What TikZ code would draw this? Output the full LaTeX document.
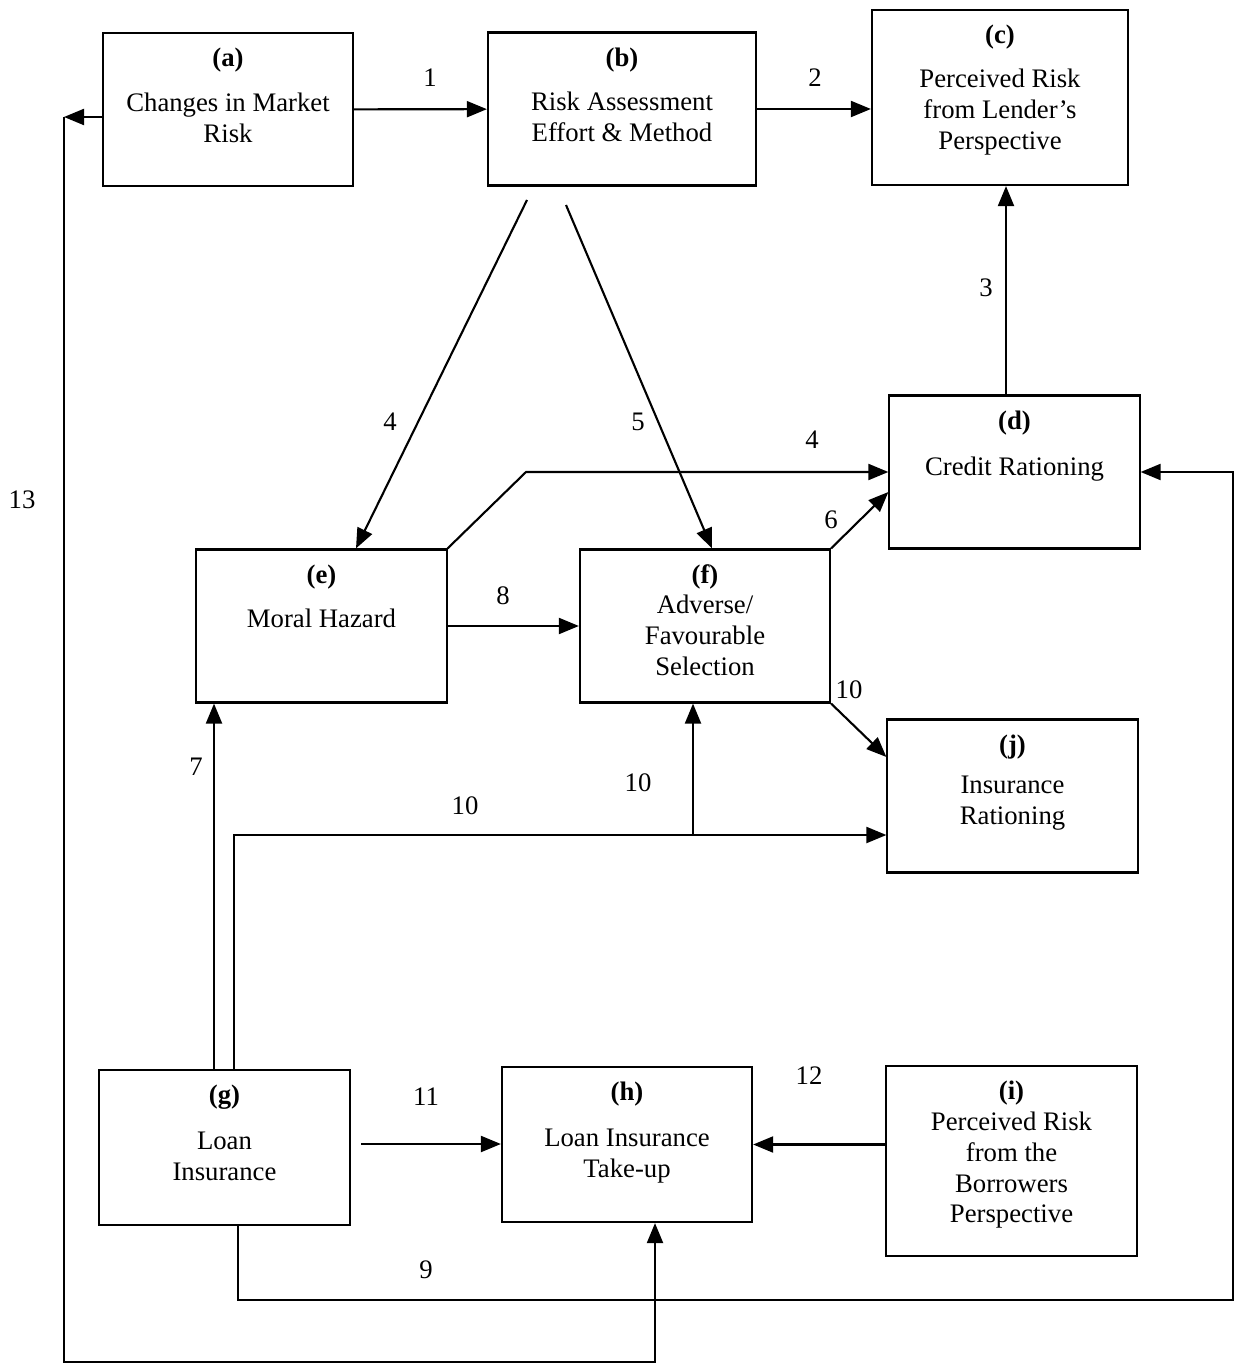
\documentclass[tikz,border=0pt]{standalone}
\usepackage{fontspec}
\setmainfont{Liberation Serif}
\usetikzlibrary{arrows.meta}
\newcommand{\dgfont}{\fontsize{7.6pt}{8.8pt}\selectfont}

\begin{document}
\begin{tikzpicture}[x=0.01cm, y=-0.01cm,
    every node/.style={font=\dgfont},
    box/.style={draw, line width=0.6pt, align=center, minimum width=2.5cm, minimum height=1.53cm, inner sep=0pt},
    tag/.style={anchor=north, inner sep=0.155cm, font=\dgfont\bfseries},
    arr/.style={line width=0.6pt, -{Triangle[length=0.2cm, width=0.16cm]}}]
    \useasboundingbox (0,0) rectangle (1242,1364);

    % Top row
    \node[box, text height=0.655cm, label={[tag]north:(a)}] (a) at (228,109.5) {Changes in Market\\Risk};
    \node[box, text height=0.655cm, minimum width=2.68cm, label={[tag]north:(b)}] (b) at (622,109) {Risk Assessment\\Effort \& Method};
    \node[box, text height=1.095cm, minimum width=2.56cm, minimum height=1.75cm, label={[tag]north:(c)}] (c) at (1000,97.5) {Perceived Risk\\from Lender's\\Perspective};

    % Middle boxes
    \node[box, text depth=0.12cm, label={[tag]north:(d)}] (d) at (1014.5,472) {Credit Rationing};
    \node[box, text depth=0.16cm, label={[tag]north:(e)}] (e) at (321.5,626) {Moral Hazard};
    \node[box, text height=0.985cm, label={[tag]north:(f)}] (f) at (705,626) {Adverse/\\Favourable\\Selection};
    \node[box, text height=0.635cm, label={[tag]north:(j)}] (j) at (1012.5,796) {Insurance\\Rationing};

    % Bottom row
    \node[box, text height=0.655cm, minimum height=1.55cm, label={[tag]north:(g)}] (g) at (224.5,1147.5) {Loan\\Insurance};
    \node[box, text height=0.715cm, minimum height=1.55cm, label={[tag]north:(h)}] (h) at (627,1144.5) {Loan Insurance\\Take-up};
    \node[box, text height=1.295cm, minimum height=1.9cm, label={[tag]north:(i)}] (i) at (1011.5,1161) {Perceived Risk\\from the\\Borrowers\\Perspective};

    % 1, 2, 3
    \draw[arr] (a) -- (b);
    \draw[arr] (b.east) -- (b.east -| c.west);
    \draw[arr] (1006,0 |- d.north) -- (1006,0 |- c.south);
    \node (l1) at (430,78) {1};
    \node (l2) at (815,78) {2};
    \node (l3) at (986,288) {3};

    % 4, 5 from risk assessment
    \coordinate (b4) at (527,200);
    \coordinate (b5) at (566,205);
    \draw[arr] (b4) -- (356,0 |- e.north);
    \draw[arr] (b5) -- (712,0 |- f.north);
    \node (l4a) at (390,422) {4};
    \node (l5) at (638,422) {5};

    % 4, 6, 8, 10 around selection
    \coordinate (bend4) at (526,472);
    \draw[arr] (e.north east) -- (bend4) -- (d.west);
    \draw[arr] (f.north east) -- ([yshift=-0.2cm]d.west);
    \draw[arr] (e) -- (f);
    \draw[arr] (f.south east) -- ([yshift=0.39cm]j.west);
    \node (l4b) at (812,440) {4};
    \node (l6) at (831,520) {6};
    \node (l8) at (503,596) {8};
    \node (l10a) at (849,690) {10};

    % 7, 10 from loan insurance
    \coordinate (g10) at (234,835);
    \draw[arr] (214,0 |- g.north) -- (214,0 |- e.south);
    \draw[arr] (234,0 |- g.north) -- (g10) -- (j.west |- g10);
    \draw[arr] (693,0 |- g10) -- (693,0 |- f.south);
    \node (l7) at (196,767) {7};
    \node (l10b) at (465,806) {10};
    \node (l10c) at (638,783) {10};

    % 11, 12
    \coordinate (g11) at (361,1144);
    \draw[arr] (g11) -- (g11 -| h.west);
    \draw[arr] (i.west |- h) -- (h.east);
    \node (l11) at (426,1097) {11};
    \node (l12) at (809,1076) {12};

    % 9
    \coordinate (r9) at (1233,1300);
    \draw[arr] (238,0 |- g.south) -- (238,1300) -- (r9) -- (r9 |- d.east) -- (d.east);
    \node (l9) at (426,1270) {9};

    % 13
    \coordinate (l13top) at (64,117);
    \draw[arr] (a.west |- l13top) -- (l13top);
    \draw[arr] (l13top) -- (64,1362) -- (655,1362) -- (655,0 |- h.south);
    \node (l13) at (22,500) {13};
\end{tikzpicture}
\end{document}
